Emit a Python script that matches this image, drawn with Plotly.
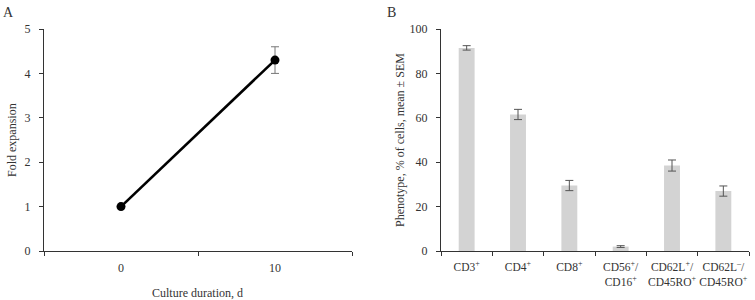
import plotly.graph_objects as go

# Panel A data
days = ["0", "10"]
fold = [1.0, 4.3]
fold_err = [0.0, 0.3]

# Panel B data
phenotypes = ["CD3<sup>+</sup>", "CD4<sup>+</sup>", "CD8<sup>+</sup>",
              "CD56<sup>+</sup>/<br>CD16<sup>+</sup>",
              "CD62L<sup>+</sup>/<br>CD45RO<sup>+</sup>",
              "CD62L<sup>\u2013</sup>/<br>CD45RO<sup>+</sup>"]
pct = [91.5, 61.5, 29.5, 2.0, 38.5, 27.0]
pct_err = [1.0, 2.3, 2.3, 0.4, 2.5, 2.3]

FONT = "Liberation Serif"
TXT = "#333333"
AX = "#333333"

fig = go.Figure()

fig.add_trace(go.Scatter(
    x=days, y=fold, mode="lines+markers",
    line=dict(color="black", width=2.6),
    marker=dict(color="black", size=9),
    error_y=dict(type="data", array=fold_err, visible=True,
                 color="#777777", thickness=1, width=4),
    xaxis="x", yaxis="y", showlegend=False))

fig.add_trace(go.Bar(
    x=phenotypes, y=pct, marker=dict(color="#d3d3d3", line=dict(width=0)),
    width=0.31,
    error_y=dict(type="data", array=pct_err, visible=True,
                 color="#555555", thickness=1, width=4),
    xaxis="x2", yaxis="y2", showlegend=False))

ydom = [0.1633, 0.9033]
common_axis = dict(showline=True, linecolor=AX, linewidth=1, ticks="outside",
                   ticklen=4, tickcolor=AX, showgrid=False, zeroline=False,
                   tickangle=0, automargin=False,
                   tickfont=dict(family=FONT, size=12, color=TXT))

fig.update_layout(
    width=755, height=300,
    margin=dict(l=0, r=0, t=0, b=0),
    paper_bgcolor="white", plot_bgcolor="white",
    font=dict(family=FONT, size=12, color=TXT),
    xaxis=dict(domain=[44/755, 352/755], anchor="y", type="category",
               range=[-0.5, 1.5], tickson="boundaries", ticklabelstandoff=6,
               **common_axis),
    yaxis=dict(domain=ydom, anchor="x", range=[0, 5], dtick=1,
               ticklabelstandoff=6, **common_axis),
    xaxis2=dict(domain=[441/755, 749/755], anchor="y2", type="category",
                range=[-0.5, 5.5], tickson="boundaries", ticklabelstandoff=5,
                **common_axis),
    yaxis2=dict(domain=ydom, anchor="x2", range=[0, 100], dtick=20,
                ticklabelstandoff=6, **common_axis),
    bargap=0.69,
)
fig.update_xaxes(tickfont=dict(size=11.5), selector=dict(anchor="y2"))

annos = [
    dict(text="A", x=1/755, y=1-12/300, xanchor="left", yanchor="middle", font=dict(size=14)),
    dict(text="B", x=385/755, y=1-12/300, xanchor="left", yanchor="middle", font=dict(size=14)),
    dict(text="Fold expansion", x=12/755, y=0.5333, textangle=-90,
         xanchor="center", yanchor="middle"),
    dict(text="Culture duration, d", x=198/755, y=1-293/300,
         xanchor="center", yanchor="middle"),
    dict(text="Phenotype, % of cells, mean \u00b1 SEM", x=400/755, y=0.5333, textangle=-90,
         xanchor="center", yanchor="middle"),
]
for a in annos:
    a.update(xref="paper", yref="paper", showarrow=False)
    a.setdefault("font", {})
    a["font"].update(family=FONT, color=TXT)
    a["font"].setdefault("size", 12)
fig.update_layout(annotations=annos)

fig.write_html("out.html", config={"displayModeBar": False},
               post_script="document.body.style.margin='0';document.body.style.overflow='hidden';")
